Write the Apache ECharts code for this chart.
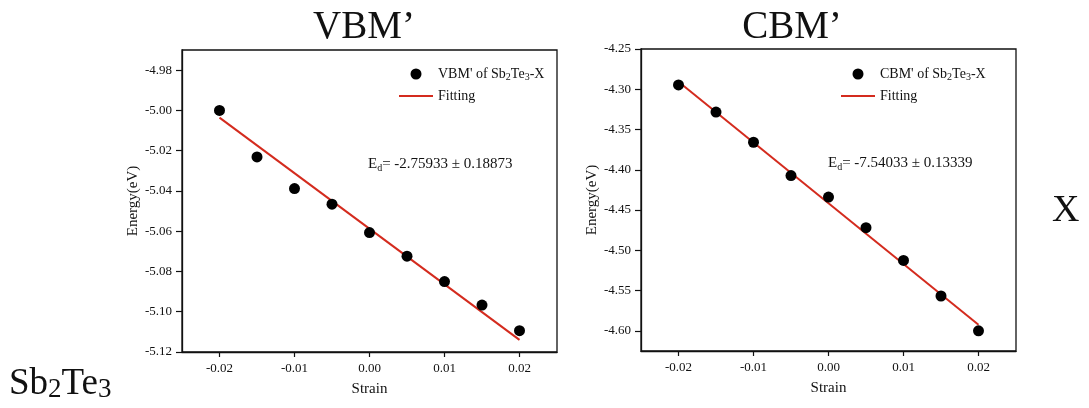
<!DOCTYPE html>
<html>
<head>
<meta charset="utf-8">
<script src="https://cdn.jsdelivr.net/npm/echarts@6/dist/echarts.min.js"></script>
<style>
  html, body { margin: 0; padding: 0; background: #ffffff; }
  #chart { width: 1089px; height: 408px; }
</style>
</head>
<body>
<div id="chart"></div>
<script>
// Strain points (x) shared by both panels
const strain = [-0.02, -0.015, -0.01, -0.005, 0, 0.005, 0.01, 0.015, 0.02];
// Band-edge energies (eV)
const vbmEnergy = [-5.0000, -5.0231, -5.0388, -5.0466, -5.0607, -5.0724, -5.0850, -5.0967, -5.1094];
const cbmEnergy = [-4.2946, -4.3283, -4.3658, -4.4071, -4.4339, -4.4719, -4.5125, -4.5567, -4.6000];
// Linear fit end points
const fitStrain = [-0.02, 0.02];
const vbmFit = [-5.0036, -5.1140];
const cbmFit = [-4.2907, -4.5923];
// Tick values
const strainTicks = [-0.02, -0.01, 0, 0.01, 0.02];
const vbmTicks = [-5.12, -5.10, -5.08, -5.06, -5.04, -5.02, -5.00, -4.98];
const cbmTicks = [-4.60, -4.55, -4.50, -4.45, -4.40, -4.35, -4.30, -4.25];
// Texts
const panelTitles = ['VBM\u2019', 'CBM\u2019'];
const vbmName = "VBM' of Sb2Te3-X";
const cbmName = "CBM' of Sb2Te3-X";
const fitName = 'Fitting';
const vbmSlope = '-2.75933 \u00b1 0.18873';
const cbmSlope = '-7.54033 \u00b1 0.13339';

const SERIF = "'Liberation Serif', 'Times New Roman', serif";
const INK = '#111111';
const RED = '#d42b1e';

const pairs = (xs, ys) => xs.map((x, i) => [x, ys[i]]);

function xAxis(gridIndex) {
  return {
    type: 'value', gridIndex, min: -0.025, max: 0.025,
    name: 'Strain', nameLocation: 'middle', nameGap: 30,
    nameTextStyle: { fontFamily: SERIF, fontSize: 15, color: INK },
    axisLine: { onZero: false, lineStyle: { color: INK, width: 1.3 } },
    axisTick: { show: true, length: 5, customValues: strainTicks, lineStyle: { color: INK, width: 1.2 } },
    axisLabel: { customValues: strainTicks, margin: 10, fontFamily: SERIF, fontSize: 13, color: INK,
      formatter: v => v.toFixed(2) },
    splitLine: { show: false }
  };
}
function yAxis(gridIndex, min, max, ticks) {
  return {
    type: 'value', gridIndex, min, max,
    name: 'Energy(eV)', nameLocation: 'middle', nameRotate: 90, nameGap: 40,
    nameTextStyle: { fontFamily: SERIF, fontSize: 15, color: INK },
    axisLine: { show: true, onZero: false, lineStyle: { color: INK, width: 1.3 } },
    axisTick: { show: true, length: 6, customValues: ticks, lineStyle: { color: INK, width: 1.2 } },
    axisLabel: { customValues: ticks, margin: 10, fontFamily: SERIF, fontSize: 13, color: INK,
      formatter: v => v.toFixed(2) },
    splitLine: { show: false }
  };
}
function legend(left, name) {
  return {
    left, top: 62, orient: 'vertical', itemWidth: 34, itemHeight: 11, itemGap: 7,
    data: [
      { name, icon: 'circle', itemStyle: { color: '#000000', opacity: 1 } },
      // plain red line, no marker
      { name: fitName, itemStyle: { opacity: 0 }, lineStyle: { color: RED, width: 2 } }
    ],
    formatter: n => n.replace('Sb2Te3', 'Sb{s|2}Te{s|3}'),
    textStyle: { fontFamily: SERIF, fontSize: 14, color: INK,
      rich: { s: { fontFamily: SERIF, fontSize: 10, color: INK, verticalAlign: 'bottom', padding: [6, 0, 0, 0] } } }
  };
}
function slopeText(x, y, value) {
  return {
    type: 'text', left: x, top: y,
    style: {
      text: 'E{s|d}= ' + value, fontFamily: SERIF, fontSize: 15, fill: INK,
      rich: { s: { fontFamily: SERIF, fontSize: 10, fill: INK, verticalAlign: 'bottom', padding: [7, 0, 0, 0] } }
    }
  };
}

const chart = echarts.init(document.getElementById('chart'), null, { renderer: 'canvas' });
chart.setOption({
  backgroundColor: '#ffffff',
  animation: false,
  title: [
    { text: panelTitles[0], left: 359, top: 3, textAlign: 'center',
      textStyle: { fontFamily: SERIF, fontSize: 39, fontWeight: 'normal', color: INK } },
    { text: panelTitles[1], left: 787, top: 3, textAlign: 'center',
      textStyle: { fontFamily: SERIF, fontSize: 39, fontWeight: 'normal', color: INK } }
  ],
  grid: [
    { left: 182, top: 50, width: 375, height: 302, show: true, borderColor: INK, borderWidth: 1.3, containLabel: false },
    { left: 641, top: 49, width: 375, height: 302, show: true, borderColor: INK, borderWidth: 1.3, containLabel: false }
  ],
  xAxis: [xAxis(0), xAxis(1)],
  yAxis: [yAxis(0, -5.12, -4.97, vbmTicks), yAxis(1, -4.625, -4.25, cbmTicks)],
  legend: [legend(393, vbmName), legend(835, cbmName)],
  series: [
    { name: fitName, type: 'line', xAxisIndex: 0, yAxisIndex: 0, data: pairs(fitStrain, vbmFit),
      symbol: 'none', lineStyle: { color: RED, width: 2 }, itemStyle: { color: RED }, z: 2 },
    { name: vbmName, type: 'scatter', xAxisIndex: 0, yAxisIndex: 0, data: pairs(strain, vbmEnergy),
      symbol: 'circle', symbolSize: 11, itemStyle: { color: '#000000', opacity: 1 }, z: 3 },
    { name: fitName, type: 'line', xAxisIndex: 1, yAxisIndex: 1, data: pairs(fitStrain, cbmFit),
      symbol: 'none', lineStyle: { color: RED, width: 2 }, itemStyle: { color: RED }, z: 2 },
    { name: cbmName, type: 'scatter', xAxisIndex: 1, yAxisIndex: 1, data: pairs(strain, cbmEnergy),
      symbol: 'circle', symbolSize: 11, itemStyle: { color: '#000000', opacity: 1 }, z: 3 }
  ],
  graphic: [
    slopeText(368, 157, vbmSlope),
    slopeText(828, 156, cbmSlope),
    { type: 'text', left: 1052, top: 192,
      style: { text: 'X', fontFamily: SERIF, fontSize: 38, fill: INK } },
    { type: 'text', left: 9, top: 366,
      style: { text: 'Sb{s|2}Te{s|3}', fontFamily: SERIF, fontSize: 37, fill: INK,
        rich: { s: { fontFamily: SERIF, fontSize: 27, fill: INK, verticalAlign: 'bottom', padding: [5, 0, 0, 0] } } } }
  ]
});
</script>
</body>
</html>
